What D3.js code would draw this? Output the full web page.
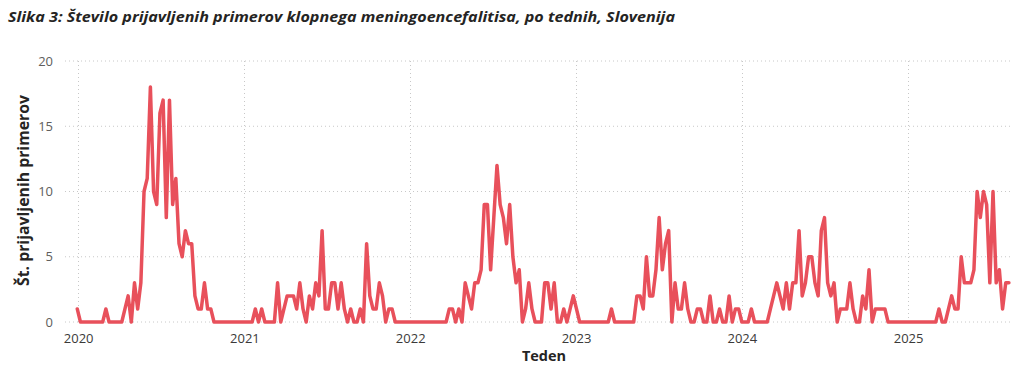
<!DOCTYPE html>
<html><head><meta charset="utf-8">
<script src="https://cdn.jsdelivr.net/npm/d3@7"></script>
<style>
body{margin:0;background:#fff;}
svg{display:block;font-family:"Open Sans","Noto Sans",sans-serif;}
</style></head><body>
<svg id="chart" width="1015" height="365"></svg>
<script>
const title = "Slika 3: Število prijavljenih primerov klopnega meningoencefalitisa, po tednih, Slovenija";
const yLabel = "Št. prijavljenih primerov";
const xLabel = "Teden";
const startWeek = "2019-12-30";
const yTicks = [0, 5, 10, 15, 20];
const xTickYears = [2020, 2021, 2022, 2023, 2024, 2025];
// weekly reported cases, consecutive weeks in segments
const cases2020 = [1,0,0,0,0,0,0,0,0,1,0,0,0,0,0,1,2,0,3,1,3,10,11,18,10,9,16,17,8,17,9,11,6,5,7,6,6,2,1,1,3,1,1,0,0,0,0,0,0,0,0,0,0];
const cases2021 = [0,0,0,1,0,1,0,0,0,0,3,0,1,2,2,2,1,3,1,0,2,1,3,2,7,1,1,3,3,1,3,1,0,1,0,0,1,0,6,2,1,1,3,2,0,1,1,0,0,0,0,0,0];
const cases2022 = [0,0,0,0,0,0,0,0,0,0,0,1,1,0,1,0,3,2,1,3,3,4,9,9,4,8,12,9,8,6,9,5,3,4,0,1,3,1,0,0,0,3,3,1,3,0,0,1,0,1,2,1];
const cases2023 = [0,0,0,0,0,0,0,0,0,0,1,0,0,0,0,0,0,0,2,2,1,5,2,2,4,8,4,6,7,0,3,1,1,3,1,0,0,1,1,0,0,2,0,0,1,0,0,2,0,1,1,0];
const cases2024 = [0,0,1,0,0,0,0,0,1,2,3,2,1,3,1,3,3,7,2,3,5,5,3,2,7,8,3,2,3,0,1,1,1,3,1,0,0,2,1,4,0,1,1,1,1,0,0,0,0,0,0,0];
const cases2025 = [0,0,0,0,0,0,0,0,0,1,0,0,1,2,1,1,5,3,3,3,4,10,8,10,9,3,10,3,4,1,3,3];
const values = [].concat(cases2020, cases2021, cases2022, cases2023, cases2024, cases2025);

const parse = d3.utcParse("%Y-%m-%d");
const t0 = parse(startWeek);
const data = values.map((v, i) => ({date: d3.utcWeek.offset(t0, i), value: v}));

const svg = d3.select("#chart");
const mLeft = 65, mRight = 1013, mTop = 61, mBottom = 322;

const x = d3.scaleUtc()
  .domain([parse("2019-12-03"), parse("2025-08-20")])
  .range([mLeft, mRight]);
const y = d3.scaleLinear().domain([0, 20]).range([mBottom, mTop]);

// title
svg.append("text")
  .attr("x", 8).attr("y", 22)
  .attr("font-size", 15).attr("font-weight", "bold").attr("font-style", "italic")
  .attr("fill", "#252423")
  .attr("textLength", 667).attr("lengthAdjust", "spacingAndGlyphs")
  .text(title);

// horizontal grid
svg.append("g").selectAll("line").data(yTicks).join("line")
  .attr("x1", mLeft).attr("x2", mRight)
  .attr("y1", d => y(d)).attr("y2", d => y(d))
  .attr("stroke", "#c8c8c8").attr("stroke-width", 1).attr("stroke-dasharray", "1,3");

// vertical grid
const yearDates = xTickYears.map(yr => parse(yr + "-01-01"));
svg.append("g").selectAll("line").data(yearDates).join("line")
  .attr("x1", d => Math.round(x(d)) + 0.5).attr("x2", d => Math.round(x(d)) + 0.5)
  .attr("y1", mTop).attr("y2", mBottom)
  .attr("stroke", "#c8c8c8").attr("stroke-width", 1).attr("stroke-dasharray", "1,3");

// y axis
const yAxis = svg.append("g").attr("transform", `translate(${mLeft - 12},0)`)
  .call(d3.axisLeft(y).tickValues(yTicks).tickSize(0).tickPadding(0));
yAxis.select(".domain").remove();
yAxis.selectAll("text").attr("font-size", 13).attr("fill", "#605e5c")
  .attr("font-family", "'Open Sans','Noto Sans',sans-serif");

// x axis
const xAxis = svg.append("g").attr("transform", `translate(0,${mBottom + 6})`)
  .call(d3.axisBottom(x).tickValues(yearDates).tickFormat(d3.utcFormat("%Y")).tickSize(0).tickPadding(6));
xAxis.select(".domain").remove();
xAxis.selectAll("text").attr("font-size", 13).attr("fill", "#3b3a39")
  .attr("font-family", "'Open Sans','Noto Sans',sans-serif");

// axis titles
svg.append("text")
  .attr("transform", `translate(29,${(mTop + mBottom) / 2 - 1}) rotate(-90)`)
  .attr("text-anchor", "middle")
  .attr("font-size", 15.8).attr("font-weight", "bold").attr("fill", "#252423")
  .text(yLabel);
svg.append("text")
  .attr("x", 544).attr("y", 361)
  .attr("text-anchor", "middle")
  .attr("font-size", 14.5).attr("font-weight", "bold").attr("fill", "#252423")
  .text(xLabel);

// line
const line = d3.line().x(d => x(d.date)).y(d => y(d.value)).curve(d3.curveLinear);
svg.append("path").datum(data)
  .attr("d", line)
  .attr("fill", "none")
  .attr("stroke", "#e8505b")
  .attr("stroke-width", 3.5)
  .attr("stroke-linejoin", "round")
  .attr("stroke-linecap", "round");
</script>
</body></html>
